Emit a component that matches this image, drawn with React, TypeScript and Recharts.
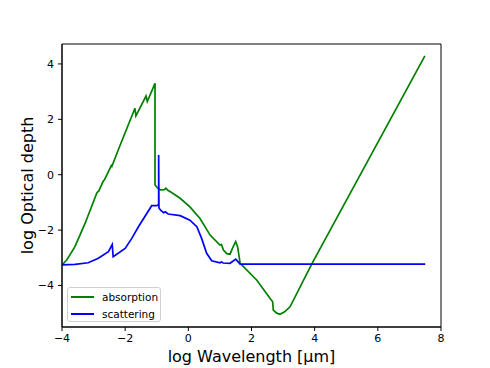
import { LineChart, Line, XAxis, YAxis, ReferenceArea, Label } from 'recharts';

// log wavelength / log optical depth
const absX = [
  -4.0, -3.85, -3.59, -3.27, -2.9, -2.87, -2.84, -2.69, -2.66, -2.48, -2.44, -2.42, -2.22,
  -1.69, -1.66, -1.34, -1.3, -1.055, -1.055, -0.97, -0.88, -0.76, -0.71, -0.64, -0.58,
  -0.26, 0.05, 0.37, 0.69, 1.0, 1.05, 1.11, 1.22, 1.32, 1.42, 1.5, 1.56, 1.64, 1.69,
  2.17, 2.59, 2.67, 2.69, 2.8, 2.9, 3.05, 3.22, 3.91, 7.49,
];
const absY = [
  -3.26, -3.08, -2.6, -1.76, -0.67, -0.62, -0.6, -0.22, -0.2, 0.23, 0.33, 0.3, 0.89,
  2.4, 2.12, 2.84, 2.64, 3.3, -0.37, -0.48, -0.55, -0.54, -0.49, -0.57, -0.61,
  -0.85, -1.16, -1.58, -2.18, -2.54, -2.52, -2.72, -2.85, -2.87, -2.6, -2.42, -2.6, -3.2, -3.26,
  -3.81, -4.47, -4.59, -4.89, -5.0, -5.04, -4.95, -4.77, -3.22, 4.29,
];

const scaX = [
  -4.0, -3.59, -3.17, -2.85, -2.53, -2.41, -2.38, -2.0, -1.79, -1.58, -1.16, -1.0, -0.94,
  -0.94, -0.93, -0.87, -0.78, -0.73, -0.64, -0.26, 0.05, 0.27, 0.42, 0.58, 0.74, 1.0,
  1.05, 1.1, 1.32, 1.5, 1.64, 7.5,
];
const scaY = [
  -3.26, -3.24, -3.18, -3.02, -2.78, -2.52, -2.96, -2.66, -2.3, -1.88, -1.12, -1.12, -1.08,
  0.71, -1.2, -1.29, -1.37, -1.34, -1.42, -1.48, -1.64, -1.88, -2.3, -2.84, -3.11, -3.18,
  -3.15, -3.19, -3.2, -3.05, -3.23, -3.23,
];

const xTicks = [-4, -2, 0, 2, 4, 6, 8];
const yTicks = [-4, -2, 0, 2, 4];

const absData = absX.map((x, i) => ({ x, y: absY[i] }));
const scaData = scaX.map((x, i) => ({ x, y: scaY[i] }));

const FONT = '"DejaVu Sans", sans-serif';
const fmt = (v: number) => String(v).replace('-', '\u2212');

const legendItems = [
  { label: 'absorption', color: '#008000' },
  { label: 'scattering', color: '#0000ff' },
];

export default function App() {
  return (
    <div style={{ position: 'absolute', left: 0, top: 0, width: 490, height: 368, background: '#fff' }}>
      <LineChart width={490} height={368} margin={{ top: 44, right: 49, bottom: 0, left: 0 }}>
        <XAxis
          dataKey="x"
          type="number"
          domain={[-4, 8]}
          ticks={xTicks}
          tickFormatter={fmt}
          height={41}
          stroke="#000"
          tickSize={4}
          tickMargin={3}
          tick={{ fill: '#000', fontSize: 11, fontFamily: FONT }}
          allowDataOverflow
        >
          <Label
            content={() => (
              <text x={251.5} y={362} textAnchor="middle" fontSize={16} fontFamily={FONT} fill="#000">
                log Wavelength [μm]
              </text>
            )}
          />
        </XAxis>
        <YAxis
          type="number"
          domain={[-5.5, 4.72]}
          ticks={yTicks}
          tickFormatter={fmt}
          width={62}
          stroke="#000"
          tickSize={4}
          tickMargin={4}
          tick={{ fill: '#000', fontSize: 11, fontFamily: FONT }}
          allowDataOverflow
        >
          <Label
            content={() => (
              <text
                x={27}
                y={185.5}
                transform="rotate(-90 27 185.5)"
                textAnchor="middle"
                dominantBaseline="central"
                fontSize={16}
                fontFamily={FONT}
                fill="#000"
              >
                log Optical depth
              </text>
            )}
          />
        </YAxis>
        <ReferenceArea x1={-4} x2={8} y1={-5.5} y2={4.72} fill="none" stroke="#000" strokeWidth={1} />
        <Line
          data={absData}
          dataKey="y"
          name="absorption"
          type="linear"
          stroke="#008000"
          strokeWidth={1.7}
          dot={false}
          isAnimationActive={false}
        />
        <Line
          data={scaData}
          dataKey="y"
          name="scattering"
          type="linear"
          stroke="#0000ff"
          strokeWidth={1.7}
          dot={false}
          isAnimationActive={false}
        />
      </LineChart>
      <div
        style={{
          position: 'absolute',
          left: 67,
          top: 287,
          width: 94,
          height: 35,
          boxSizing: 'border-box',
          border: '1px solid #d0d0d0',
          borderRadius: 3,
          background: 'rgba(255,255,255,0.8)',
          fontFamily: FONT,
          fontSize: 10.5,
        }}
      >
        {legendItems.map((e, i) => (
          <div key={e.label} style={{ position: 'absolute', left: 3, top: 2 + i * 16.5, height: 14, display: 'flex', alignItems: 'center' }}>
            <span style={{ display: 'inline-block', width: 23, height: 2, background: e.color }} />
            <span style={{ marginLeft: 8, lineHeight: '14px', color: '#000' }}>{e.label}</span>
          </div>
        ))}
      </div>
    </div>
  );
}
